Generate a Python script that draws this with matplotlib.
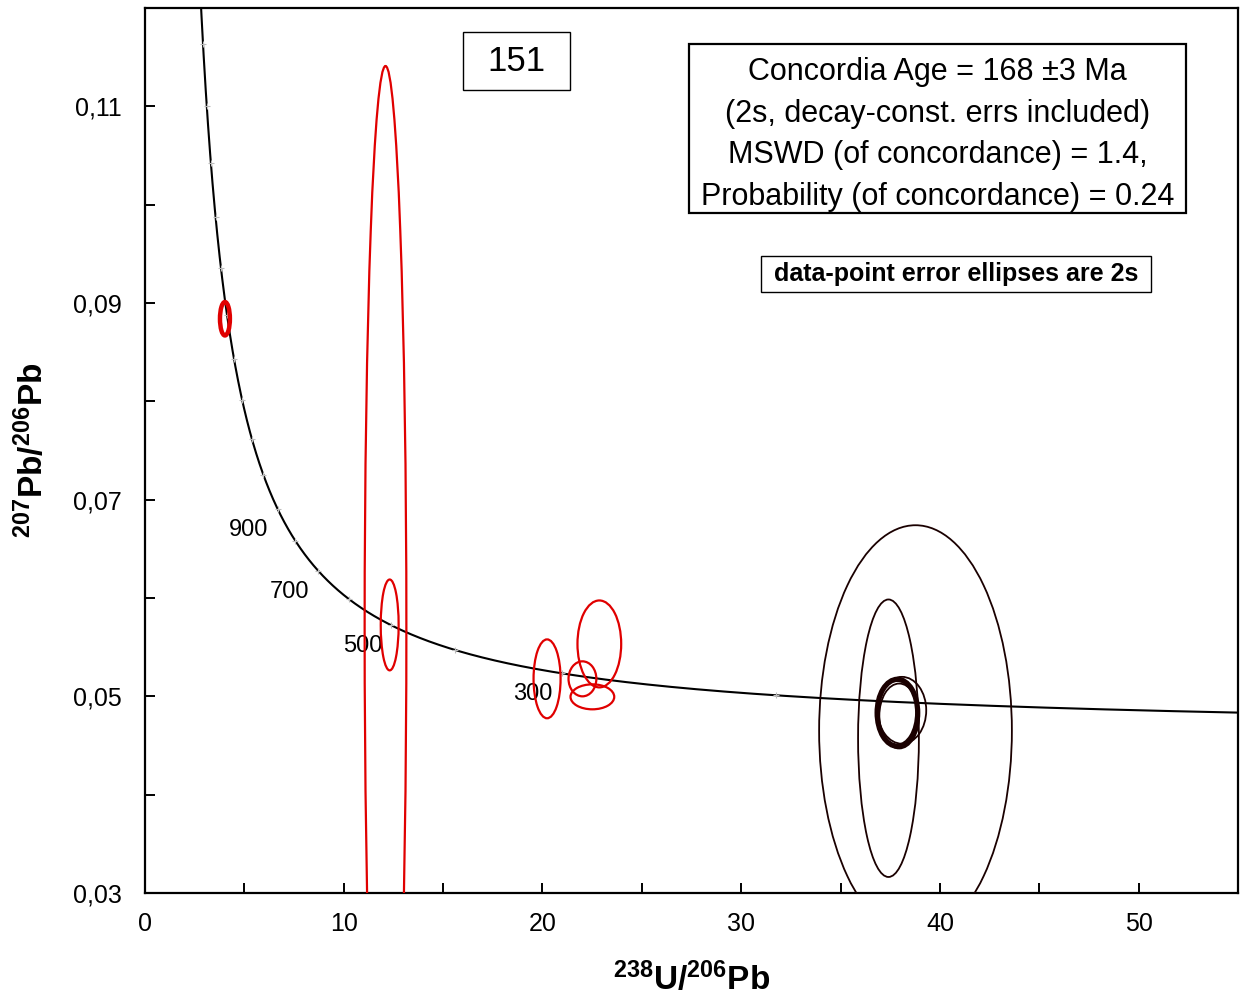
# -*- coding: utf-8 -*-
# Tera-Wasserburg concordia plot, sample 151
import numpy as np
import matplotlib
matplotlib.use("Agg")
import matplotlib.pyplot as plt
from matplotlib.patches import Ellipse, Rectangle
from matplotlib.ticker import FixedLocator, FuncFormatter

plt.rcParams['font.family'] = ['Liberation Sans', 'DejaVu Sans']
plt.rcParams['mathtext.fontset'] = 'custom'
plt.rcParams['mathtext.rm'] = 'Liberation Sans'
plt.rcParams['mathtext.bf'] = 'Liberation Sans:bold'

# decay constants (1/yr) and U ratio used for the concordia curve
LAMBDA_238 = 1.55125e-10
LAMBDA_235 = 9.8485e-10
U238_U235 = 137.88

# concordia age marks (Ma) and the ones with labels
tick_ages = [100, 200, 300, 400, 500, 600, 700, 800, 900, 1000, 1100, 1200,
             1300, 1400, 1500, 1600, 1700, 1800, 1900]
label_ages = [300, 500, 700, 900]

# red data-point ellipses: centre, half-axes (2s)
red_x = [4.02, 12.10, 12.31, 20.23, 22.86, 22.01, 22.51]
red_y = [0.0884, 0.0570, 0.05726, 0.05178, 0.05533, 0.05178, 0.04995]
red_dx = [0.25, 1.05, 0.45, 0.68, 1.10, 0.70, 1.10]
red_dy = [0.0017, 0.0571, 0.00462, 0.00401, 0.00442, 0.00178, 0.00127]
red_lw = [3.2, 1.6, 1.6, 1.6, 1.6, 1.6, 1.6]

# dark ellipses
dark_x = [38.77, 37.41, 37.86, 38.09, 37.95]
dark_y = [0.0465, 0.04574, 0.04833, 0.04858, 0.0480]
dark_dx = [4.85, 1.53, 1.02, 1.22, 1.00]
dark_dy = [0.0209, 0.01411, 0.0034, 0.0034, 0.0033]
dark_lw = [1.3, 1.3, 3.8, 1.3, 1.3]


def concordia(t_ma):
    t = np.asarray(t_ma, dtype=float) * 1e6
    e238 = np.exp(LAMBDA_238 * t) - 1
    e235 = np.exp(LAMBDA_235 * t) - 1
    return 1 / e238, e235 / e238 / U238_U235


def box(ax, x0, y0, w, h, lw):
    ax.add_patch(Rectangle((x0, y0), w, h, transform=ax.transAxes, fc='white',
                           ec='black', lw=lw, zorder=6, clip_on=False))


fig = plt.figure(figsize=(12.44, 9.99), dpi=100)
ax = fig.add_axes([0.1166, 0.1061, 0.8786, 0.8859])
ax.set_xlim(0, 55)
ax.set_ylim(0.03, 0.12)

# concordia curve
ages = np.linspace(30, 2200, 3000)
cx, cy = concordia(ages)
ax.plot(cx, cy, color='black', lw=1.5, zorder=3)
tx, ty = concordia(tick_ages)
ax.plot(tx, ty, ls='none', marker='+', ms=5, mew=0.8, color='#bbbbbb', zorder=4)
for a in label_ages:
    lx, ly = concordia(a)
    ax.annotate(str(a), (lx, ly), xytext=(-29, -21), textcoords='offset pixels',
                ha='center', va='center', fontsize=17)

for i in range(len(red_x)):
    ax.add_patch(Ellipse((red_x[i], red_y[i]), 2 * red_dx[i], 2 * red_dy[i],
                         fill=False, ec='#e00000', lw=red_lw[i], zorder=5))
for i in range(len(dark_x)):
    ax.add_patch(Ellipse((dark_x[i], dark_y[i]), 2 * dark_dx[i], 2 * dark_dy[i],
                         fill=False, ec='#1a0000', lw=dark_lw[i], zorder=5))

# axes, ticks
for s in ax.spines.values():
    s.set_linewidth(1.6)
ax.xaxis.set_major_locator(FixedLocator(np.arange(0, 56, 5)))
ax.yaxis.set_major_locator(FixedLocator(np.arange(0.03, 0.121, 0.01)))
ax.xaxis.set_major_formatter(FuncFormatter(lambda v, p: '%d' % round(v) if round(v) % 10 == 0 else ''))
ax.yaxis.set_major_formatter(FuncFormatter(
    lambda v, p: ('%.2f' % v).replace('.', ',') if round(v * 100) % 2 == 1 else ''))
ax.tick_params(direction='in', length=7, width=1.4, labelsize=18, pad=14)
ax.tick_params(axis='y', pad=17)

ax.set_xlabel(r'$\mathbf{^{238}U/^{206}Pb}$', fontsize=24, labelpad=18)
ax.set_ylabel(r'$\mathbf{^{207}Pb/^{206}Pb}$', fontsize=24, labelpad=16)

# text boxes
box(ax, 0.2909, 0.9073, 0.0979, 0.0655, 1.0)
ax.text(0.3399, 0.9400, '151', transform=ax.transAxes, ha='center', va='center',
        fontsize=25, zorder=7)
box(ax, 0.4977, 0.7684, 0.4547, 0.1910, 1.6)
ax.text(0.7251, 0.8570,
        'Concordia Age = 168 \u00b13 Ma\n(2s, decay-const. errs included)\n'
        'MSWD (of concordance) = 1.4,\nProbability (of concordance) = 0.24',
        transform=ax.transAxes, ha='center', va='center', fontsize=22,
        linespacing=1.5, multialignment='center', zorder=7)
box(ax, 0.5636, 0.6791, 0.3568, 0.0407, 1.0)
ax.text(0.7420, 0.6994, 'data-point error ellipses are 2s', transform=ax.transAxes,
        ha='center', va='center', fontsize=18, fontweight='bold', zorder=7)

fig.savefig('out.png', dpi=100)
